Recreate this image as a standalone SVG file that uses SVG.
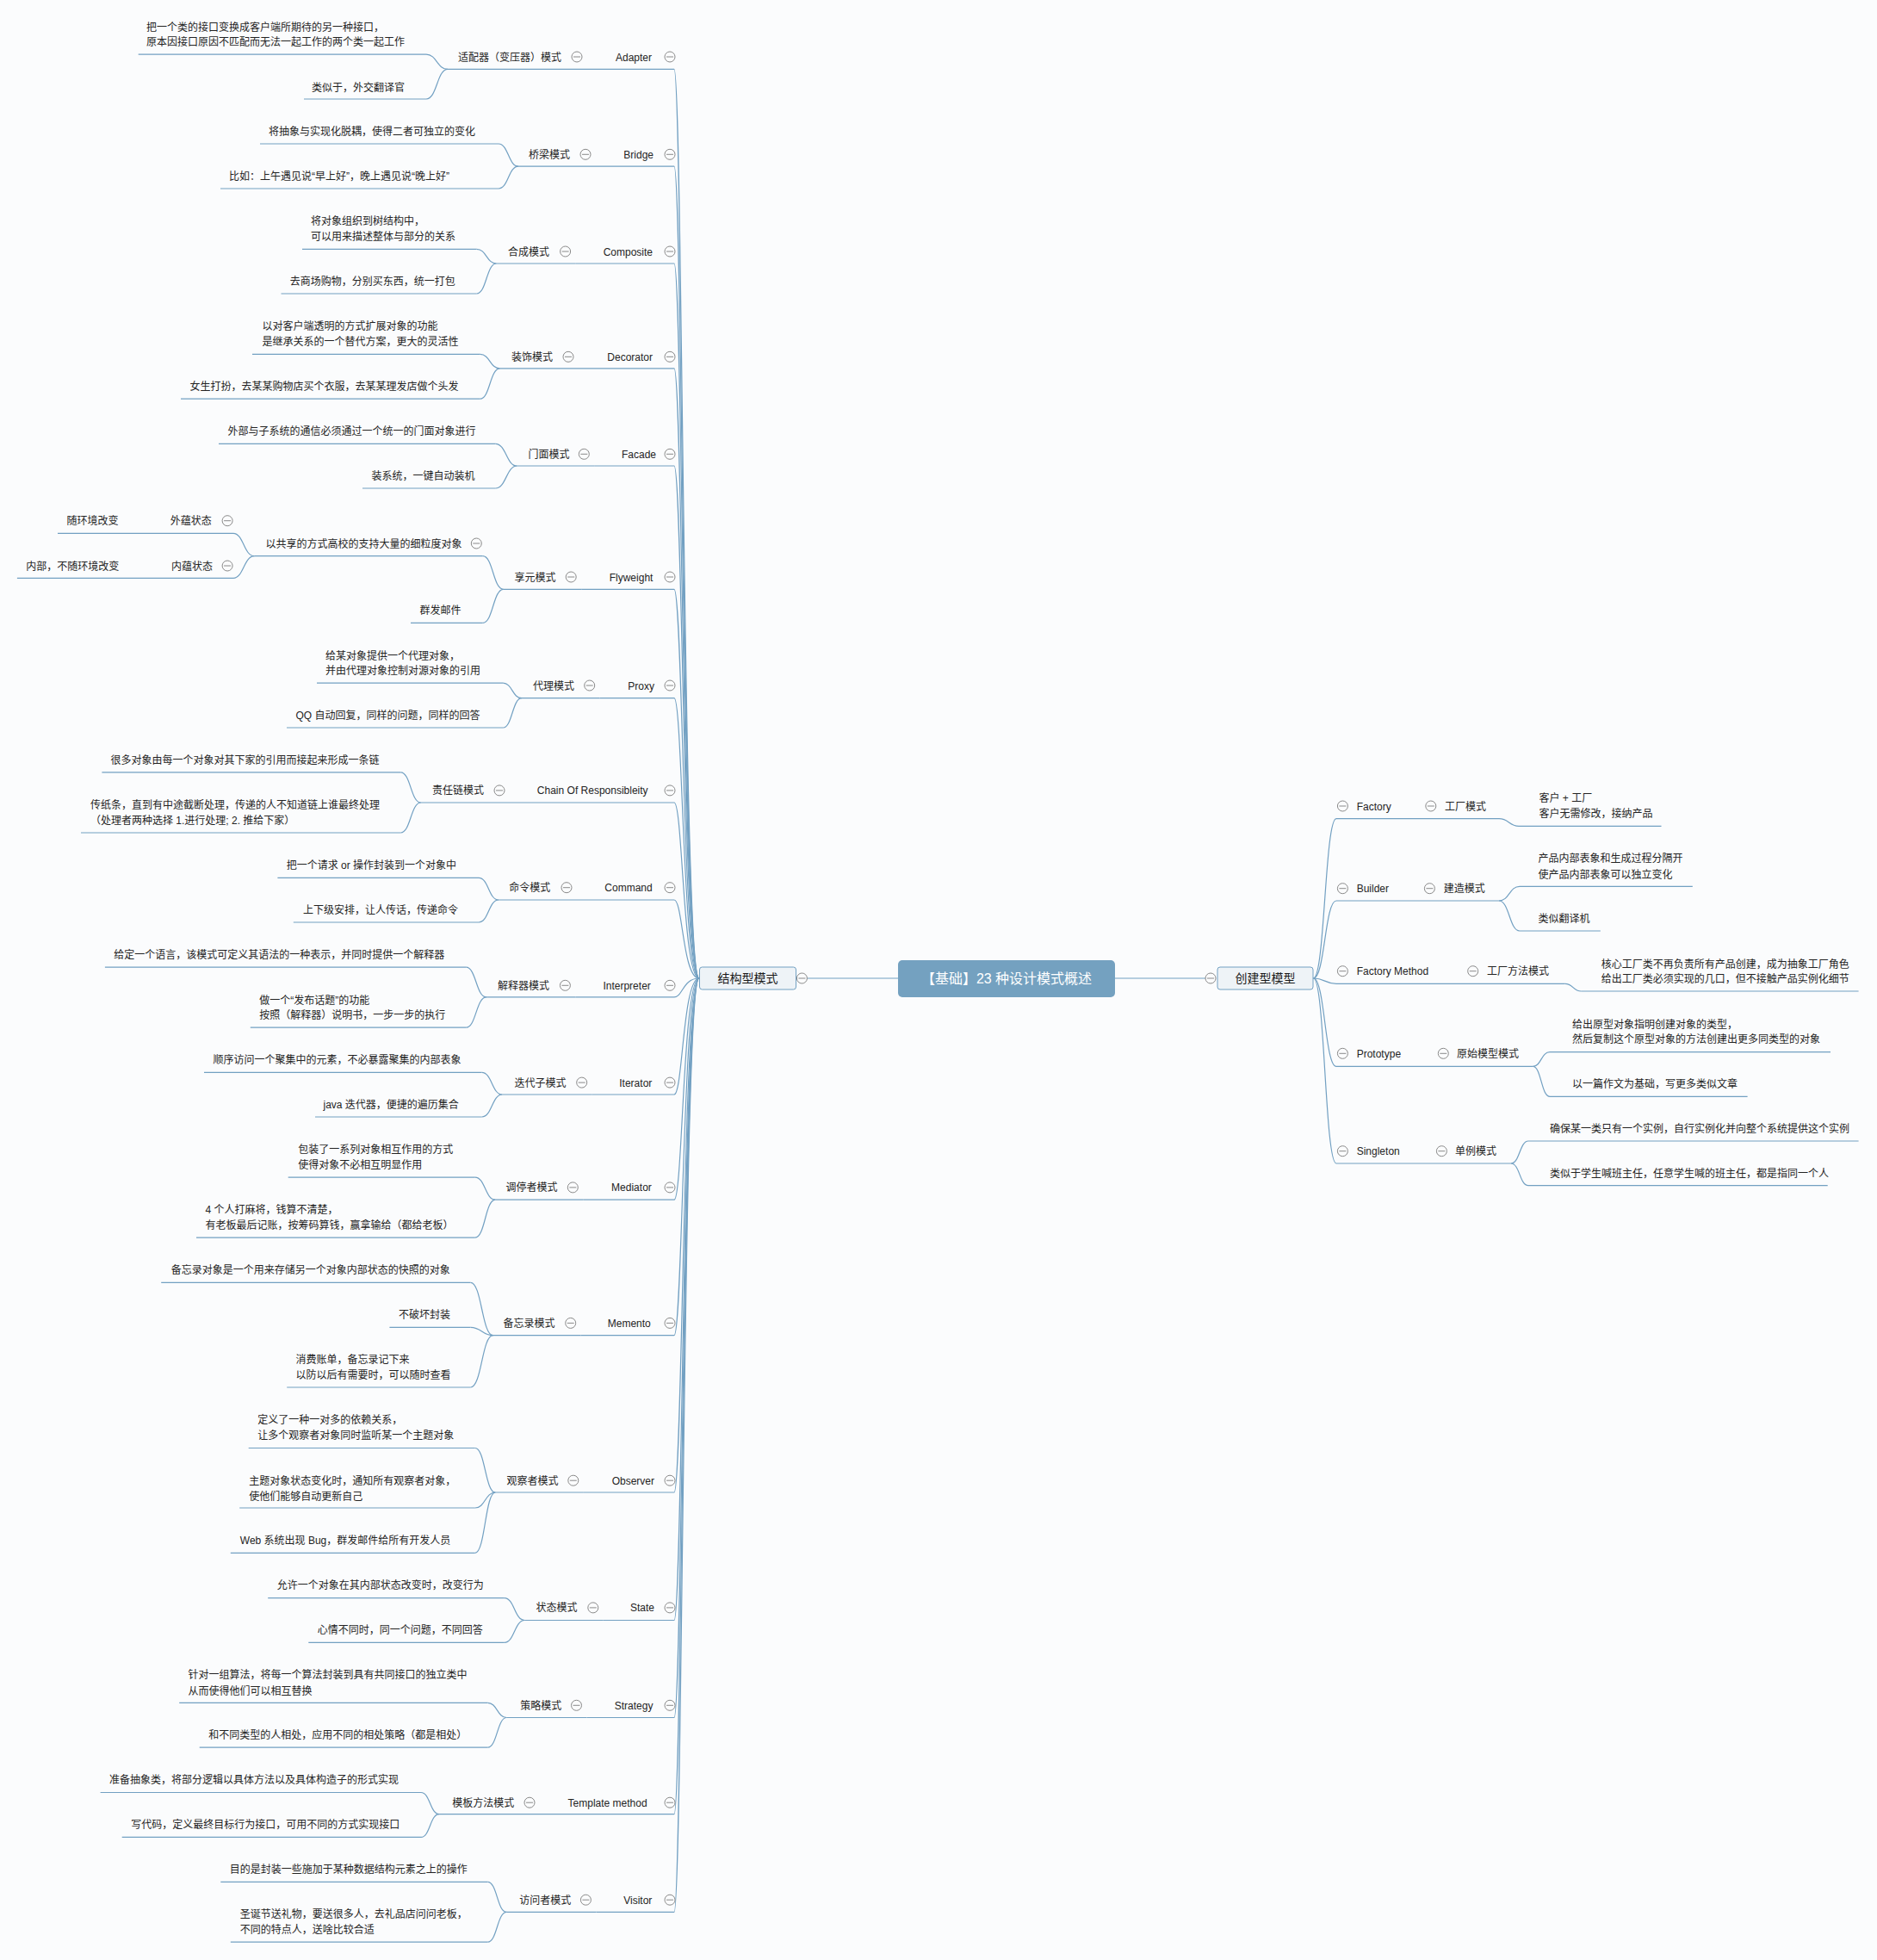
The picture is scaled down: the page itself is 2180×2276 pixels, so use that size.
<svg xmlns="http://www.w3.org/2000/svg" width="2180" height="2276" viewBox="0 0 2180 2276">
<style>
.t{font-family:"Liberation Sans","Noto Sans CJK SC",sans-serif;font-size:12px;fill:#232323}
.e{text-anchor:end}
.ln{fill:none;stroke:#72a0c2;stroke-width:1.2}
.cn{fill:none;stroke:#72a0c2;stroke-width:1.2}
.box{fill:#eef3f7;stroke:#72a0c2;stroke-width:1}
</style>
<defs>
<g id="cb"><circle r="6" fill="#fbfcfd" stroke="#8a8a8a" stroke-width="1"/><path d="M-4 0H4" stroke="#8a8a8a" stroke-width="1"/></g>
</defs>
<rect width="2180" height="2276" fill="#fbfcfd"/>

<!-- connectors -->
<g id="connectors">
<path class="cn" d="M937.4 1136H1043"/>
<path class="cn" d="M1295 1136H1400"/>
<!-- structural branch -->
<path class="cn" d="M812 1136C793 1136 793 80.4 783 80.4"/>
<path class="cn" d="M812 1136C793 1136 793 193.2 783 193.2"/>
<path class="cn" d="M812 1136C793 1136 793 306 783 306"/>
<path class="cn" d="M812 1136C793 1136 793 427.9 783 427.9"/>
<path class="cn" d="M812 1136C793 1136 793 541 783 541"/>
<path class="cn" d="M812 1136C793 1136 793 684.3 783 684.3"/>
<path class="cn" d="M812 1136C793 1136 793 810.7 783 810.7"/>
<path class="cn" d="M812 1136C793 1136 793 932 783 932"/>
<path class="cn" d="M812 1136C793 1136 793 1045 783 1045"/>
<path class="cn" d="M812 1136C793 1136 793 1157.9 783 1157.9"/>
<path class="cn" d="M812 1136C793 1136 793 1271 783 1271"/>
<path class="cn" d="M812 1136C793 1136 793 1393.2 783 1393.2"/>
<path class="cn" d="M812 1136C793 1136 793 1550.7 783 1550.7"/>
<path class="cn" d="M812 1136C793 1136 793 1733 783 1733"/>
<path class="cn" d="M812 1136C793 1136 793 1881.5 783 1881.5"/>
<path class="cn" d="M812 1136C793 1136 793 1994.5 783 1994.5"/>
<path class="cn" d="M812 1136C793 1136 793 2106.6 783 2106.6"/>
<path class="cn" d="M812 1136C793 1136 793 2220.4 783 2220.4"/>
<!-- creational branch -->
<path class="cn" d="M1525.5 1136C1538.7 1136 1538.7 950.7 1552 950.7"/>
<path class="cn" d="M1525.5 1136C1538.7 1136 1538.7 1046 1552 1046"/>
<path class="cn" d="M1525.5 1136C1538.7 1136 1538.7 1142.3 1552 1142.3"/>
<path class="cn" d="M1525.5 1136C1538.7 1136 1538.7 1238.3 1552 1238.3"/>
<path class="cn" d="M1525.5 1136C1538.7 1136 1538.7 1351 1552 1351"/>
<!-- pattern to description -->
<path class="cn" d="M520 80.4C507.5 80.4 507.5 63.2 495 63.2"/>
<path class="cn" d="M520 80.4C507.5 80.4 507.5 115 495 115"/>
<path class="cn" d="M602 193.2C590.5 193.2 590.5 167 579 167"/>
<path class="cn" d="M602 193.2C590.5 193.2 590.5 219 579 219"/>
<path class="cn" d="M576.5 306C565 306 565 289.3 553.6 289.3"/>
<path class="cn" d="M576.5 306C565 306 565 341 553.6 341"/>
<path class="cn" d="M580.6 427.9C569 427.9 569 411.4 557.7 411.4"/>
<path class="cn" d="M580.6 427.9C569 427.9 569 463.2 557.7 463.2"/>
<path class="cn" d="M600.4 541C588 541 588 515.3 575.3 515.3"/>
<path class="cn" d="M600.4 541C588 541 588 567 575.3 567"/>
<path class="cn" d="M584.7 684.3C572.7 684.3 572.7 645.7 560.7 645.7"/>
<path class="cn" d="M584.7 684.3C572.7 684.3 572.7 723.3 560.7 723.3"/>
<path class="cn" d="M295.5 645.7C283 645.7 283 619.3 271 619.3"/>
<path class="cn" d="M295.5 645.7C283 645.7 283 671.3 271 671.3"/>
<path class="cn" d="M606 810.7C595 810.7 595 793.2 584.2 793.2"/>
<path class="cn" d="M606 810.7C595 810.7 595 845 584.2 845"/>
<path class="cn" d="M488.8 932C477 932 477 896.8 465.3 896.8"/>
<path class="cn" d="M488.8 932C477 932 477 967 465.3 967"/>
<path class="cn" d="M579 1045C567.5 1045 567.5 1019.3 556 1019.3"/>
<path class="cn" d="M579 1045C567.5 1045 567.5 1071 556 1071"/>
<path class="cn" d="M564.9 1157.9C553 1157.9 553 1123.2 541.3 1123.2"/>
<path class="cn" d="M564.9 1157.9C553 1157.9 553 1193.2 541.3 1193.2"/>
<path class="cn" d="M583.2 1271C571.4 1271 571.4 1245.4 559.6 1245.4"/>
<path class="cn" d="M583.2 1271C571.4 1271 571.4 1297 559.6 1297"/>
<path class="cn" d="M575.3 1393.2C563.5 1393.2 563.5 1367.1 551.8 1367.1"/>
<path class="cn" d="M575.3 1393.2C563.5 1393.2 563.5 1437.1 551.8 1437.1"/>
<path class="cn" d="M572.7 1550.7C559.6 1550.7 559.6 1489.3 546.5 1489.3"/>
<path class="cn" d="M572.7 1550.7C559.6 1550.7 559.6 1541.4 546.5 1541.4"/>
<path class="cn" d="M572.7 1550.7C559.6 1550.7 559.6 1611 546.5 1611"/>
<path class="cn" d="M575.3 1733C563.5 1733 563.5 1681.5 551.8 1681.5"/>
<path class="cn" d="M575.3 1733C563.5 1733 563.5 1751 551.8 1751"/>
<path class="cn" d="M575.3 1733C563.5 1733 563.5 1803.3 551.8 1803.3"/>
<path class="cn" d="M609.3 1881.5C597.5 1881.5 597.5 1855.6 585.8 1855.6"/>
<path class="cn" d="M609.3 1881.5C597.5 1881.5 597.5 1907.4 585.8 1907.4"/>
<path class="cn" d="M588.4 1994.5C577.4 1994.5 577.4 1977.3 566.4 1977.3"/>
<path class="cn" d="M588.4 1994.5C577.4 1994.5 577.4 2029.2 566.4 2029.2"/>
<path class="cn" d="M510 2106.6C499.5 2106.6 499.5 2081.5 489 2081.5"/>
<path class="cn" d="M510 2106.6C499.5 2106.6 499.5 2133.4 489 2133.4"/>
<path class="cn" d="M588.4 2220.4C577.4 2220.4 577.4 2185.3 566.4 2185.3"/>
<path class="cn" d="M588.4 2220.4C577.4 2220.4 577.4 2255.1 566.4 2255.1"/>
<path class="cn" d="M1741 950.7C1752.5 950.7 1752.5 959.3 1764 959.3"/>
<path class="cn" d="M1741 1046C1753 1046 1753 1029.3 1765 1029.3"/>
<path class="cn" d="M1741 1046C1753 1046 1753 1081 1765 1081"/>
<path class="cn" d="M1817.8 1142.3C1827 1142.3 1827 1151 1836.4 1151"/>
<path class="cn" d="M1780.5 1238.3C1790 1238.3 1790 1221.7 1800 1221.7"/>
<path class="cn" d="M1780.5 1238.3C1790 1238.3 1790 1273.3 1800 1273.3"/>
<path class="cn" d="M1755 1351C1765 1351 1765 1325 1775 1325"/>
<path class="cn" d="M1755 1351C1765 1351 1765 1376.7 1775 1376.7"/>
</g>

<!-- central topic and main branches -->
<g id="root">
<rect x="1043" y="1115" width="252" height="43" rx="5" fill="#74a1c0"/>
<text x="1169" y="1141.5" text-anchor="middle" font-family="Liberation Sans,Noto Sans CJK SC,sans-serif" font-size="16" fill="#fff">【基础】23 种设计模式概述</text>
</g>
<g id="structural">
<rect class="box" x="812.5" y="1123" width="112" height="26" rx="3"/>
<text x="868.5" y="1141" text-anchor="middle" font-family="Liberation Sans,Noto Sans CJK SC,sans-serif" font-size="14" fill="#1a1a1a">结构型模式</text>
<use href="#cb" x="931.4" y="1136"/>
</g>
<g id="creational">
<rect class="box" x="1414" y="1123" width="111" height="26" rx="3"/>
<text x="1469.5" y="1141" text-anchor="middle" font-family="Liberation Sans,Noto Sans CJK SC,sans-serif" font-size="14" fill="#1a1a1a">创建型模型</text>
<use href="#cb" x="1406" y="1136"/>
</g>

<!-- structural patterns: English name -->
<g id="adapter"><text class="t e" x="757" y="70.5">Adapter</text><use href="#cb" x="778" y="66"/><path class="ln" d="M682 80.4H783"/></g>
<g id="bridge"><text class="t e" x="759" y="183.8">Bridge</text><use href="#cb" x="778" y="179.3"/><path class="ln" d="M692 193.2H783"/></g>
<g id="composite"><text class="t e" x="758" y="296.5">Composite</text><use href="#cb" x="778" y="292"/><path class="ln" d="M668.6 306H783"/></g>
<g id="decorator"><text class="t e" x="758" y="418.8">Decorator</text><use href="#cb" x="778" y="414.3"/><path class="ln" d="M672 427.9H783"/></g>
<g id="facade"><text class="t e" x="762" y="531.8">Facade</text><use href="#cb" x="778" y="527.3"/><path class="ln" d="M690.3 541H783"/></g>
<g id="flyweight"><text class="t e" x="758.4" y="674.5">Flyweight</text><use href="#cb" x="778" y="670"/><path class="ln" d="M675.2 684.3H783"/></g>
<g id="proxy"><text class="t e" x="760" y="800.5">Proxy</text><use href="#cb" x="778" y="796"/><path class="ln" d="M696.7 810.7H783"/></g>
<g id="chain"><text class="t e" x="752.6" y="922.4">Chain Of Responsibleity</text><use href="#cb" x="778" y="917.9"/><path class="ln" d="M592 932H783"/></g>
<g id="command"><text class="t e" x="757.7" y="1035.2">Command</text><use href="#cb" x="778" y="1030.7"/><path class="ln" d="M670 1045H783"/></g>
<g id="interpreter"><text class="t e" x="755.8" y="1148.8">Interpreter</text><use href="#cb" x="778" y="1144.3"/><path class="ln" d="M668.4 1157.9H783"/></g>
<g id="iterator"><text class="t e" x="757.3" y="1261.6">Iterator</text><use href="#cb" x="778" y="1257.1"/><path class="ln" d="M687.7 1271H783"/></g>
<g id="mediator"><text class="t e" x="756.8" y="1383.4">Mediator</text><use href="#cb" x="778" y="1378.9"/><path class="ln" d="M677.3 1393.2H783"/></g>
<g id="memento"><text class="t e" x="755.8" y="1540.9">Memento</text><use href="#cb" x="778" y="1536.4"/><path class="ln" d="M674.7 1550.7H783"/></g>
<g id="observer"><text class="t e" x="760" y="1723.7">Observer</text><use href="#cb" x="778" y="1719.2"/><path class="ln" d="M677.8 1733H783"/></g>
<g id="state"><text class="t e" x="760" y="1871.4">State</text><use href="#cb" x="778" y="1866.9"/><path class="ln" d="M700.8 1881.5H783"/></g>
<g id="strategy"><text class="t e" x="758.4" y="1984.8">Strategy</text><use href="#cb" x="778" y="1980.3"/><path class="ln" d="M681.5 1994.5H783"/></g>
<g id="template-method"><text class="t e" x="751.6" y="2097.7">Template method</text><use href="#cb" x="778" y="2093.2"/><path class="ln" d="M627 2106.6H783"/></g>
<g id="visitor"><text class="t e" x="757.3" y="2210.7">Visitor</text><use href="#cb" x="778" y="2206.2"/><path class="ln" d="M692.4 2220.4H783"/></g>

<!-- structural patterns: Chinese name -->
<g id="adapter-cn"><text class="t e" x="652" y="70.5">适配器（变压器）模式</text><use href="#cb" x="670" y="66"/><path class="ln" d="M520 80.4H682"/></g>
<g id="bridge-cn"><text class="t e" x="662" y="183.8">桥梁模式</text><use href="#cb" x="680" y="179.3"/><path class="ln" d="M602 193.2H692"/></g>
<g id="composite-cn"><text class="t e" x="638" y="296.5">合成模式</text><use href="#cb" x="656.6" y="292"/><path class="ln" d="M576.5 306H668.6"/></g>
<g id="decorator-cn"><text class="t e" x="642" y="418.8">装饰模式</text><use href="#cb" x="660" y="414.3"/><path class="ln" d="M580.6 427.9H672"/></g>
<g id="facade-cn"><text class="t e" x="661.6" y="531.8">门面模式</text><use href="#cb" x="678.3" y="527.3"/><path class="ln" d="M600.4 541H690.3"/></g>
<g id="flyweight-cn"><text class="t e" x="645.4" y="674.5">享元模式</text><use href="#cb" x="663.2" y="670"/><path class="ln" d="M584.7 684.3H675.2"/></g>
<g id="proxy-cn"><text class="t e" x="667" y="800.5">代理模式</text><use href="#cb" x="684.7" y="796"/><path class="ln" d="M606 810.7H696.7"/></g>
<g id="chain-cn"><text class="t e" x="562" y="922.4">责任链模式</text><use href="#cb" x="580" y="917.9"/><path class="ln" d="M488.8 932H592"/></g>
<g id="command-cn"><text class="t e" x="639.3" y="1035.2">命令模式</text><use href="#cb" x="658" y="1030.7"/><path class="ln" d="M579 1045H670"/></g>
<g id="interpreter-cn"><text class="t e" x="638" y="1148.8">解释器模式</text><use href="#cb" x="656.4" y="1144.3"/><path class="ln" d="M564.9 1157.9H668.4"/></g>
<g id="iterator-cn"><text class="t e" x="657.4" y="1261.6">迭代子模式</text><use href="#cb" x="675.7" y="1257.1"/><path class="ln" d="M583.2 1271H687.7"/></g>
<g id="mediator-cn"><text class="t e" x="647.5" y="1383.4">调停者模式</text><use href="#cb" x="665.3" y="1378.9"/><path class="ln" d="M575.3 1393.2H677.3"/></g>
<g id="memento-cn"><text class="t e" x="644.4" y="1540.9">备忘录模式</text><use href="#cb" x="662.7" y="1536.4"/><path class="ln" d="M572.7 1550.7H674.7"/></g>
<g id="observer-cn"><text class="t e" x="648.5" y="1723.7">观察者模式</text><use href="#cb" x="665.8" y="1719.2"/><path class="ln" d="M575.3 1733H677.8"/></g>
<g id="state-cn"><text class="t e" x="670.5" y="1871.4">状态模式</text><use href="#cb" x="688.8" y="1866.9"/><path class="ln" d="M609.3 1881.5H700.8"/></g>
<g id="strategy-cn"><text class="t e" x="652.2" y="1984.8">策略模式</text><use href="#cb" x="669.5" y="1980.3"/><path class="ln" d="M588.4 1994.5H681.5"/></g>
<g id="template-method-cn"><text class="t e" x="597.3" y="2097.7">模板方法模式</text><use href="#cb" x="615" y="2093.2"/><path class="ln" d="M510 2106.6H627"/></g>
<g id="visitor-cn"><text class="t e" x="663.2" y="2210.7">访问者模式</text><use href="#cb" x="680.4" y="2206.2"/><path class="ln" d="M588.4 2220.4H692.4"/></g>

<!-- structural patterns: descriptions -->
<g id="adapter-1"><text class="t"><tspan x="170" y="35.9">把一个类的接口变换成客户端所期待的另一种接口，</tspan><tspan x="170" y="52.7">原本因接口原因不匹配而无法一起工作的两个类一起工作</tspan></text><path class="ln" d="M160.7 63.2H495"/></g>
<g id="adapter-2"><text class="t" x="362" y="105.5">类似于，外交翻译官</text><path class="ln" d="M353 115H495"/></g>
<g id="bridge-1"><text class="t" x="312" y="157.4">将抽象与实现化脱耦，使得二者可独立的变化</text><path class="ln" d="M302 167H579"/></g>
<g id="bridge-2"><text class="t" x="266" y="209.1">比如：上午遇见说“早上好”，晚上遇见说“晚上好”</text><path class="ln" d="M256 219H579"/></g>
<g id="composite-1"><text class="t"><tspan x="361" y="260.9">将对象组织到树结构中，</tspan><tspan x="361" y="278.8">可以用来描述整体与部分的关系</tspan></text><path class="ln" d="M351 289.3H553.6"/></g>
<g id="composite-2"><text class="t" x="336.7" y="331.3">去商场购物，分别买东西，统一打包</text><path class="ln" d="M326.5 341H553.6"/></g>
<g id="decorator-1"><text class="t"><tspan x="304.6" y="383.1">以对客户端透明的方式扩展对象的功能</tspan><tspan x="304.6" y="400.9">是继承关系的一个替代方案，更大的灵活性</tspan></text><path class="ln" d="M293 411.4H557.7"/></g>
<g id="decorator-2"><text class="t" x="220.4" y="452.7">女生打扮，去某某购物店买个衣服，去某某理发店做个头发</text><path class="ln" d="M210 463.2H557.7"/></g>
<g id="facade-1"><text class="t" x="264.6" y="505.2">外部与子系统的通信必须通过一个统一的门面对象进行</text><path class="ln" d="M254 515.3H575.3"/></g>
<g id="facade-2"><text class="t" x="431.5" y="557.2">装系统，一键自动装机</text><path class="ln" d="M421 567H575.3"/></g>
<g id="flyweight-1"><text class="t" x="308.6" y="635.5">以共享的方式高校的支持大量的细粒度对象</text><use href="#cb" x="553.3" y="631"/><path class="ln" d="M295.5 645.7H560.7"/></g>
<g id="flyweight-ext"><text class="t e" x="245.8" y="609.2">外蕴状态</text><use href="#cb" x="264.1" y="604.7"/><path class="ln" d="M170 619.3H271"/></g>
<g id="flyweight-ext-1"><text class="t" x="77.4" y="609.2">随环境改变</text><path class="ln" d="M67 619.3H170"/></g>
<g id="flyweight-int"><text class="t e" x="246.9" y="661.5">内蕴状态</text><use href="#cb" x="264.1" y="657"/><path class="ln" d="M170 671.3H271"/></g>
<g id="flyweight-int-1"><text class="t" x="30.3" y="661.5">内部，不随环境改变</text><path class="ln" d="M19.9 671.3H170"/></g>
<g id="flyweight-2"><text class="t" x="487.4" y="713.2">群发邮件</text><path class="ln" d="M477 723.3H560.7"/></g>
<g id="proxy-1"><text class="t"><tspan x="378" y="765.5">给某对象提供一个代理对象，</tspan><tspan x="378" y="782.7">并由代理对象控制对源对象的引用</tspan></text><path class="ln" d="M368 793.2H584.2"/></g>
<g id="proxy-2"><text class="t" x="343.4" y="834.9">QQ 自动回复，同样的问题，同样的回答</text><path class="ln" d="M333 845H584.2"/></g>
<g id="chain-1"><text class="t" x="128.6" y="887">很多对象由每一个对象对其下家的引用而接起来形成一条链</text><path class="ln" d="M118.4 896.8H465.3"/></g>
<g id="chain-2"><text class="t"><tspan x="105" y="938.8">传纸条，直到有中途截断处理，传递的人不知道链上谁最终处理</tspan><tspan x="105" y="957.4">（处理者两种选择 1.进行处理; 2. 推给下家）</tspan></text><path class="ln" d="M94 967H465.3"/></g>
<g id="command-1"><text class="t" x="332.7" y="1009.1">把一个请求 or 操作封装到一个对象中</text><path class="ln" d="M322.4 1019.3H556"/></g>
<g id="command-2"><text class="t" x="352" y="1060.9">上下级安排，让人传话，传递命令</text><path class="ln" d="M340.8 1071H556"/></g>
<g id="interpreter-1"><text class="t" x="132.3" y="1113.1">给定一个语言，该模式可定义其语法的一种表示，并同时提供一个解释器</text><path class="ln" d="M121.9 1123.2H541.3"/></g>
<g id="interpreter-2"><text class="t"><tspan x="301.3" y="1165.5">做一个“发布话题”的功能</tspan><tspan x="301.3" y="1183.4">按照（解释器）说明书，一步一步的执行</tspan></text><path class="ln" d="M290.8 1193.2H541.3"/></g>
<g id="iterator-1"><text class="t" x="247.4" y="1235.2">顺序访问一个聚集中的元素，不必暴露聚集的内部表象</text><path class="ln" d="M237 1245.4H559.6"/></g>
<g id="iterator-2"><text class="t" x="375.5" y="1287.4">java 迭代器，便捷的遍历集合</text><path class="ln" d="M366 1297H559.6"/></g>
<g id="mediator-1"><text class="t"><tspan x="346.2" y="1339.1">包装了一系列对象相互作用的方式</tspan><tspan x="346.2" y="1357">使得对象不必相互明显作用</tspan></text><path class="ln" d="M334.7 1367.1H551.8"/></g>
<g id="mediator-2"><text class="t"><tspan x="238.5" y="1408.8">4 个人打麻将，钱算不清楚，</tspan><tspan x="238.5" y="1427.4">有老板最后记账，按筹码算钱，赢拿输给（都给老板）</tspan></text><path class="ln" d="M228 1437.1H551.8"/></g>
<g id="memento-1"><text class="t" x="198.7" y="1479.1">备忘录对象是一个用来存储另一个对象内部状态的快照的对象</text><path class="ln" d="M187.2 1489.3H546.5"/></g>
<g id="memento-2"><text class="t" x="462.9" y="1530.9">不破坏封装</text><path class="ln" d="M452.4 1541.4H546.5"/></g>
<g id="memento-3"><text class="t"><tspan x="343.6" y="1582.7">消费账单，备忘录记下来</tspan><tspan x="343.6" y="1600.6">以防以后有需要时，可以随时查看</tspan></text><path class="ln" d="M333.2 1611H546.5"/></g>
<g id="observer-1"><text class="t"><tspan x="299.2" y="1653">定义了一种一对多的依赖关系，</tspan><tspan x="299.2" y="1671.4">让多个观察者对象同时监听某一个主题对象</tspan></text><path class="ln" d="M288.7 1681.5H551.8"/></g>
<g id="observer-2"><text class="t"><tspan x="289.2" y="1723.7">主题对象状态变化时，通知所有观察者对象，</tspan><tspan x="289.2" y="1741.7">使他们能够自动更新自己</tspan></text><path class="ln" d="M278.2 1751H551.8"/></g>
<g id="observer-3"><text class="t" x="278.8" y="1793.1">Web 系统出现 Bug，群发邮件给所有开发人员</text><path class="ln" d="M267.8 1803.3H551.8"/></g>
<g id="state-1"><text class="t" x="321.7" y="1845.4">允许一个对象在其内部状态改变时，改变行为</text><path class="ln" d="M311.2 1855.6H585.8"/></g>
<g id="state-2"><text class="t" x="368.7" y="1897.3">心情不同时，同一个问题，不同回答</text><path class="ln" d="M358.3 1907.4H585.8"/></g>
<g id="strategy-1"><text class="t"><tspan x="218.6" y="1949.2">针对一组算法，将每一个算法封装到具有共同接口的独立类中</tspan><tspan x="218.6" y="1967.6">从而使得他们可以相互替换</tspan></text><path class="ln" d="M208.2 1977.3H566.4"/></g>
<g id="strategy-2"><text class="t" x="242.2" y="2019.1">和不同类型的人相处，应用不同的相处策略（都是相处）</text><path class="ln" d="M231.7 2029.2H566.4"/></g>
<g id="template-method-1"><text class="t" x="127" y="2071.4">准备抽象类，将部分逻辑以具体方法以及具体构造子的形式实现</text><path class="ln" d="M116.6 2081.5H489"/></g>
<g id="template-method-2"><text class="t" x="152.2" y="2123.2">写代码，定义最终目标行为接口，可用不同的方式实现接口</text><path class="ln" d="M141.7 2133.4H489"/></g>
<g id="visitor-1"><text class="t" x="266.7" y="2175.1">目的是封装一些施加于某种数据结构元素之上的操作</text><path class="ln" d="M256.3 2185.3H566.4"/></g>
<g id="visitor-2"><text class="t"><tspan x="278.8" y="2227.4">圣诞节送礼物，要送很多人，去礼品店问问老板，</tspan><tspan x="278.8" y="2245">不同的特点人，送啥比较合适</tspan></text><path class="ln" d="M267.8 2255.1H566.4"/></g>

<!-- creational patterns -->
<g id="factory"><use href="#cb" x="1559.4" y="936"/><text class="t" x="1575.7" y="940.5">Factory</text><path class="ln" d="M1552 950.7H1650"/></g>
<g id="factory-cn"><use href="#cb" x="1661.8" y="936"/><text class="t" x="1678" y="940.5">工厂模式</text><path class="ln" d="M1650 950.7H1741"/></g>
<g id="factory-1"><text class="t"><tspan x="1787.5" y="931.2">客户 + 工厂</tspan><tspan x="1787.5" y="948.8">客户无需修改，接纳产品</tspan></text><path class="ln" d="M1764 959.3H1929.5"/></g>

<g id="builder"><use href="#cb" x="1559.4" y="1031.7"/><text class="t" x="1575.7" y="1036.2">Builder</text><path class="ln" d="M1552 1046H1648"/></g>
<g id="builder-cn"><use href="#cb" x="1660.4" y="1031.7"/><text class="t" x="1676.7" y="1036.2">建造模式</text><path class="ln" d="M1648 1046H1741"/></g>
<g id="builder-1"><text class="t"><tspan x="1786.6" y="1001.2">产品内部表象和生成过程分隔开</tspan><tspan x="1786.6" y="1019.5">使产品内部表象可以独立变化</tspan></text><path class="ln" d="M1765 1029.3H1965.8"/></g>
<g id="builder-2"><text class="t" x="1786.6" y="1071.2">类似翻译机</text><path class="ln" d="M1765 1081H1858.8"/></g>

<g id="factory-method"><use href="#cb" x="1559.4" y="1127.7"/><text class="t" x="1575.7" y="1132.2">Factory Method</text><path class="ln" d="M1552 1142.3H1698"/></g>
<g id="factory-method-cn"><use href="#cb" x="1710.7" y="1127.7"/><text class="t" x="1727" y="1132.2">工厂方法模式</text><path class="ln" d="M1698 1142.3H1817.8"/></g>
<g id="factory-method-1"><text class="t"><tspan x="1859.7" y="1123.5">核心工厂类不再负责所有产品创建，成为抽象工厂角色</tspan><tspan x="1859.7" y="1141.2">给出工厂类必须实现的几口，但不接触产品实例化细节</tspan></text><path class="ln" d="M1836.4 1151H2158.6"/></g>

<g id="prototype"><use href="#cb" x="1559.4" y="1223.3"/><text class="t" x="1575.7" y="1227.8">Prototype</text><path class="ln" d="M1552 1238.3H1664"/></g>
<g id="prototype-cn"><use href="#cb" x="1676.3" y="1223.3"/><text class="t" x="1692" y="1227.8">原始模型模式</text><path class="ln" d="M1664 1238.3H1780.5"/></g>
<g id="prototype-1"><text class="t"><tspan x="1826" y="1193.5">给出原型对象指明创建对象的类型，</tspan><tspan x="1826" y="1211.2">然后复制这个原型对象的方法创建出更多同类型的对象</tspan></text><path class="ln" d="M1800 1221.7H2126"/></g>
<g id="prototype-2"><text class="t" x="1826" y="1262.8">以一篇作文为基础，写更多类似文章</text><path class="ln" d="M1800 1273.3H2029.6"/></g>

<g id="singleton"><use href="#cb" x="1559.4" y="1336.7"/><text class="t" x="1575.7" y="1341.2">Singleton</text><path class="ln" d="M1552 1351H1662"/></g>
<g id="singleton-cn"><use href="#cb" x="1674.4" y="1336.7"/><text class="t" x="1690" y="1341.2">单例模式</text><path class="ln" d="M1662 1351H1755"/></g>
<g id="singleton-1"><text class="t" x="1800" y="1315.2">确保某一类只有一个实例，自行实例化并向整个系统提供这个实例</text><path class="ln" d="M1775 1325H2158.6"/></g>
<g id="singleton-2"><text class="t" x="1800" y="1366.8">类似于学生喊班主任，任意学生喊的班主任，都是指同一个人</text><path class="ln" d="M1775 1376.7H2122.7"/></g>
</svg>
